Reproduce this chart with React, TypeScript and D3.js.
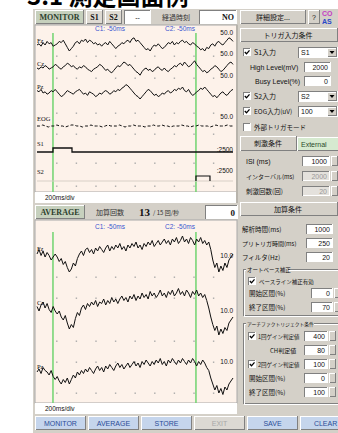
import React from 'react';
import * as d3 from 'd3';

// raw monitor traces, evenly sampled over the 2000 ms sweep
const fzRaw = [0, 1, -1, 2, 0, 3, 1, 2, -1, 0, 1, 3, 2, 4, 1, -2, -5, -3, -1, 2, 3, 1, 4, 3, 5, 2, 4, 3, 1, 2, 0, 1, -1, 1, 2, 0, 3, 1, -1, -3, -1, 0, 2, 1, 3, 4, 2, 5, 6, 3, 4, 2, 0, -2, -4, -3, -5, -2, 0, -1, 1, -1, -3, -2, 0, 2, 1, 3, 0, 2, 1, 3, 4, 2, 3, 1, 0, 2, 1, -1, -2, -4, -3, -5, -2, -3, 0, 1, -1, 2, 3, 1, 0, 2, 4, 6, 5, 3];
const czRaw = [0, -1, 1, 0, 2, 1, -1, 0, 1, 3, 2, 0, -1, 1, 2, 4, 3, 1, 2, 0, -1, 1, 0, 2, 1, -1, -2, -3, -1, 0, 1, 3, 2, 0, -2, -1, -3, -4, -2, 0, 2, 1, 3, 5, 4, 2, 3, 1, -1, -3, -4, -6, -3, -1, 0, -2, -1, -3, -2, 0, 1, -1, -2, 0, -2, -3, -1, 0, 2, 1, 3, 4, 2, 5, 3, 1, 2, 4, 6, 3, 1, -1, -3, -2, -4, -3, -1, 0, 2, 1, -1, -3, -2, 0, 2, 4, 5, 3];
const pzRaw = [2, 1, 3, 0, 1, -1, 0, 2, 1, 3, 1, -1, -3, -2, 0, 2, 1, 0, -1, 1, 2, 3, 1, -1, 0, -2, 1, 0, -1, -3, -2, 0, -1, 1, 2, 1, -1, 0, 2, 1, 3, 2, 4, 5, 7, 6, 4, 2, 0, -2, -3, -5, -3, -1, 1, 3, 2, 0, -2, -1, -3, -2, 0, -1, 1, 2, 0, 1, 3, 2, 4, 3, 5, 2, 1, 3, 0, -2, -1, 1, 2, 4, 3, 5, 3, 1, -1, -3, -2, -4, -2, 0, 1, -1, -2, 0, 2, 3];
const eogRaw = [0, 0, 1, 0, -1, 0, 0, 1, 0, 0, -1, 0, 1, 1, 0, 0, -1, 0, 0, 1, 0, 0, 0, -1, 0, 1, 0, 0, 0, 1, 0, -1, 0, 0, 1, 0, 0, 0, -1, 0, 0, 1, 0, 0, 1, 0, 0, -1, 0, 0, 0, 1, 0, 0, -1, 0, 0, 1, 0, 0, 0, -1, 0, 1, 0, 0, 0, 1, 0, 0];

// averaged traces
const fzAvg = [0, 3, -1, 2, -2, 1, -1, -4, -2, 0, -2, -5, -3, -7, -5, -9, -12, -10, -6, -8, -3, 0, 2, -1, 3, 4, 1, 3, 0, 4, 2, 5, 3, 1, 4, 6, 2, 5, 3, 6, 4, 7, 3, 5, 2, 6, 4, 7, 5, 8, 4, 6, 3, 7, 5, 8, 6, 9, 5, 7, 9, 6, 8, 10, 7, 9, 6, 10, 8, 11, 7, 9, 12, 8, 10, 7, 11, 9, 6, 10, 8, 11, 7, 9, 6, 8, 3, -4, -9, -6, -12, -8, -11, -6, -9, -4, -2, 0];
const czAvg = [1, -2, 2, 4, 0, 3, -1, -3, 1, -2, -4, -2, -6, -8, -5, -10, -14, -11, -13, -7, -3, -5, 0, 2, -1, 3, 1, 4, 2, 5, 1, 4, 3, 6, 2, 5, 3, 7, 4, 6, 3, 6, 8, 5, 7, 4, 8, 6, 9, 5, 8, 6, 10, 7, 9, 6, 11, 8, 10, 7, 9, 12, 8, 10, 7, 11, 9, 12, 8, 10, 13, 9, 11, 8, 12, 10, 7, 11, 9, 12, 8, 10, 7, 9, 5, 0, -6, -11, -15, -12, -18, -14, -17, -13, -15, -10, -8, -6];
const pzAvg = [0, 2, -1, 3, 1, 0, -2, 1, -3, -5, -3, -6, -8, -5, -7, -4, -8, -5, -2, -4, 0, -2, 1, -1, 2, 0, 3, 1, -1, 2, 4, 1, 3, 0, 4, 2, 5, 3, 1, 4, 6, 3, 5, 2, 4, 6, 3, 5, 7, 4, 6, 3, 7, 5, 8, 6, 4, 7, 5, 8, 6, 9, 5, 7, 4, 8, 6, 9, 7, 5, 8, 6, 9, 7, 5, 8, 6, 9, 7, 4, 7, 5, 8, 6, 3, 1, -4, -8, -12, -9, -14, -11, -15, -10, -12, -8, -6, -4];

const rawChannels = ['Fz', 'Cz', 'Pz', 'EOG'];
const rawScales = ['50.0', '50.0', '50.0', '50.0'];
const trigChannels = ['S1', 'S2'];
const trigScales = [':2500', ':2500'];
const avgChannels = ['Fz', 'Cz', 'Pz'];
const avgScales = ['10.0', '10.0', '10.0'];
const cursorNames = ['C1: -50ms', 'C2: -50ms'];
const cursorTimes = [163, 1622];
const s1On = [163, 357];
const s2On = [1622, 1765];
const bottomButtons = ['MONITOR', 'AVERAGE', 'STORE', 'EXIT', 'SAVE', 'CLEAR'];

const JP = '"Noto Sans CJK JP", sans-serif';
const SERIF = '"Liberation Serif", serif';
const SANS = '"Liberation Sans", sans-serif';
const GRAY = '#d4d0c8';

const x = d3.scaleLinear().domain([0, 2000]).range([37, 233]);
const gridT = d3.range(200, 2000, 200);

const trace = (values: number[], cy: number, k: number) => {
  const t = d3.scaleLinear().domain([0, values.length - 1]).range([0, 2000]);
  const y = d3.scaleLinear().domain([-10, 10]).range([cy + 10 * k, cy - 10 * k]);
  return d3.line<number>().x((_, i) => x(t(i))).y(v => y(v))(values) || '';
};

const step = (on: number[], base: number, high: number) => {
  const y = d3.scaleLinear().domain([0, 1]).range([base, high]);
  const pts: [number, number][] = [[0, 0], [on[0], 0], [on[0], 1], [on[1], 1], [on[1], 0], [2000, 0]];
  return d3.line<[number, number]>().x(d => x(d[0])).y(d => y(d[1]))(pts) || '';
};

const Box = ({ x, y, w, h, fill = GRAY, inset = false }: any) => {
  const lt = inset ? '#808080' : '#ffffff';
  const rb = inset ? '#ffffff' : '#808080';
  return (
    <g shapeRendering="crispEdges">
      <rect x={x} y={y} width={w} height={h} fill={fill} />
      <path d={`M${x + 0.5},${y + h}V${y + 0.5}H${x + w}`} stroke={lt} fill="none" />
      <path d={`M${x + 0.5},${y + h - 0.5}H${x + w - 0.5}V${y}`} stroke={rb} fill="none" />
    </g>
  );
};

const Label = ({ x, y, children, size = 7, anchor = 'start', fill = '#111', font = JP, weight = 'normal' }: any) => (
  <text x={x} y={y} fontSize={size} textAnchor={anchor} fill={fill} fontFamily={font} fontWeight={weight}>{children}</text>
);

const Check = ({ x, y, on = true }: any) => (
  <g>
    <Box x={x} y={y - 4} w={8} h={8} fill="#fff" inset />
    {on && <path d={`M${x + 1.8},${y}l1.7,1.8l3-3.5`} stroke="#000" strokeWidth={1.3} fill="none" />}
  </g>
);

const Field = ({ y, value, x0 = 304, w = 27, disabled = false, spin = true }: any) => (
  <g>
    <Box x={x0} y={y - 5} w={w} h={10} fill={disabled ? '#e4e1dc' : '#fff'} inset />
    <Label x={x0 + w - 3} y={y + 2.5} anchor="end" fill={disabled ? '#999' : '#111'} font={SANS}>{value}</Label>
    {spin && <Box x={x0 + w + 1} y={y - 5} w={7} h={10} />}
  </g>
);

const Combo = ({ y, value }: any) => (
  <g>
    <Box x={298} y={y - 5} w={40} h={11} fill="#fff" inset />
    <Label x={301} y={y + 2.5} font={SANS}>{value}</Label>
    <Box x={327} y={y - 4} w={10} h={9} />
    <path d={`M${329.5},${y - 1}h5l-2.5,3z`} fill="#000" />
  </g>
);

export default function App() {
  const rawCy = [45, 68, 93, 126];
  const rawLab = [43, 66, 89, 121];
  const rawSc = [35, 56, 78, 119];
  const avgCy = [254, 308, 372];
  const avgSc = [258, 313, 364];
  const band = d3.scaleBand().domain(bottomButtons).range([35, 351]).paddingInner(0.04);

  return (
    <div style={{ position: 'absolute', left: 0, top: 0 }}>
      <svg width={338} height={433} style={{ display: 'block', background: '#fff' }}>
        {/* page heading, cut at the top as in the source page */}
        <Label x={27} y={5} size={24} weight="bold" fill="#000">3.1 測定画面例</Label>

        <rect x={33} y={9} width={305} height={424} fill={GRAY} />

        {/* top toolbar */}
        <Box x={35} y={10} w={49} h={14} fill="#c6d0bd" />
        <Label x={59.5} y={20} anchor="middle" font={SERIF} weight="bold" size={8} fill="#2c3f2c">MONITOR</Label>
        <Box x={86} y={10} w={17} h={14} fill="#dedad2" />
        <Label x={94.5} y={20} anchor="middle" font={SERIF} weight="bold" size={8}>S1</Label>
        <Box x={105} y={10} w={17} h={14} fill="#dedad2" />
        <Label x={113.5} y={20} anchor="middle" font={SERIF} weight="bold" size={8}>S2</Label>
        <Box x={124} y={10} w={27} h={14} fill="#fff" inset />
        <Label x={137.5} y={20} anchor="middle" font={SANS} size={7}>--</Label>
        <Label x={176} y={20} anchor="middle" size={7} fill="#333">経過時刻</Label>
        <Box x={199} y={10} w={38} h={14} fill="#fff" inset />
        <Label x={234} y={20} anchor="end" font={SERIF} weight="bold" size={8}>NO</Label>
        <Box x={240} y={10} w={66} h={14} />
        <Label x={273} y={20} anchor="middle" size={7}>詳細設定...</Label>
        <Box x={308} y={10} w={12} h={14} />
        <Label x={314} y={20} anchor="middle" size={7} font={SANS}>?</Label>
        <Label x={322} y={16} size={7} font={SANS} weight="bold" fill="#c43cc4">CO</Label>
        <Label x={322} y={24} size={7} font={SANS} weight="bold" fill="#2846c8">AS</Label>

        {/* monitor chart */}
        <rect x={35} y={25} width={202} height={167} fill="#fdf2ea" stroke="#a8a8a8" />
        <rect x={35} y={192} width={202} height={11} fill="#fff" />
        <Label x={45} y={200} size={6.5} font={SANS}>200ms/div</Label>
        {[56, 78, 113, 134, 163, 186].map(gy => gridT.map(t => (
          <rect key={`m${gy}-${t}`} x={x(t) - 0.5} y={gy - 0.5} width={1.4} height={1.4} fill="#a9a9a9" />
        )))}
        {cursorTimes.map((t, i) => (
          <line key={`mc${i}`} x1={x(t)} x2={x(t)} y1={33} y2={192} stroke="#6fd46f" strokeWidth={1.5} />
        ))}
        {cursorNames.map((c, i) => (
          <Label key={`mn${i}`} x={[95, 165][i]} y={31} size={6.5} font={SANS} fill="#3a55d0">{c}</Label>
        ))}
        {[fzRaw, czRaw, pzRaw].map((v, i) => (
          <path key={`r${i}`} d={trace(v, rawCy[i], 1.2)} fill="none" stroke="#111" strokeWidth={1} />
        ))}
        <path d={trace(eogRaw, rawCy[3], 1)} fill="none" stroke="#111" strokeWidth={1} strokeDasharray="3 2" />
        {rawChannels.map((c, i) => (
          <Label key={`rl${i}`} x={37} y={rawLab[i]} size={6.5} font={SERIF}>{c}</Label>
        ))}
        {rawScales.map((s, i) => (
          <Label key={`rs${i}`} x={233} y={rawSc[i]} anchor="end" size={6.5} font={SANS}>{s}</Label>
        ))}
        <path d={step(s1On, 152, 148)} fill="none" stroke="#111" strokeWidth={1.3} />
        <line x1={x(0)} x2={x(2000)} y1={181} y2={181} stroke="#d8cfc6" />
        <path d={`M${x(s2On[0])},181V176H${x(s2On[1])}V181`} fill="none" stroke="#111" strokeWidth={1.2} />
        {trigChannels.map((c, i) => (
          <Label key={`tl${i}`} x={37} y={[146, 174][i]} size={6.5} font={SERIF}>{c}</Label>
        ))}
        {trigScales.map((s, i) => (
          <Label key={`ts${i}`} x={233} y={[152, 173][i]} anchor="end" size={6.5} font={SANS}>{s}</Label>
        ))}
        <rect x={236} y={25} width={2} height={178} fill="#b8b4ac" />

        {/* average header */}
        <Box x={35} y={205} w={50} h={14} fill="#c6d0bd" />
        <Label x={60} y={215} anchor="middle" font={SERIF} weight="bold" size={8} fill="#2c3f2c">AVERAGE</Label>
        <Label x={110} y={215} anchor="middle" size={7} fill="#333">加算回数</Label>
        <Label x={139} y={216} size={11} font={SERIF} weight="bold">13</Label>
        <Label x={153} y={215} size={6} fill="#333">/ 15 回/秒</Label>
        <Box x={205} y={205} w={33} h={14} fill="#fff" inset />
        <Label x={235} y={216} anchor="end" font={SERIF} weight="bold" size={9}>0</Label>

        {/* averaged chart */}
        <rect x={35} y={220} width={202} height={183} fill="#fdf2ea" stroke="#a8a8a8" />
        <rect x={35} y={403} width={202} height={11} fill="#fff" />
        <Label x={45} y={411} size={6.5} font={SANS}>200ms/div</Label>
        {[277, 298, 341, 362, 393].map(gy => gridT.map(t => (
          <rect key={`a${gy}-${t}`} x={x(t) - 0.5} y={gy - 0.5} width={1.4} height={1.4} fill="#a9a9a9" />
        )))}
        {cursorTimes.map((t, i) => (
          <line key={`ac${i}`} x1={x(t)} x2={x(t)} y1={232} y2={403} stroke="#6fd46f" strokeWidth={1.5} />
        ))}
        {cursorNames.map((c, i) => (
          <Label key={`an${i}`} x={[95, 165][i]} y={229} size={6.5} font={SANS} fill="#3a55d0">{c}</Label>
        ))}
        {[fzAvg, czAvg, pzAvg].map((v, i) => (
          <path key={`av${i}`} d={trace(v, avgCy[i], 1.5)} fill="none" stroke="#111" strokeWidth={1} />
        ))}
        {avgChannels.map((c, i) => (
          <Label key={`al${i}`} x={37} y={avgCy[i] - 3} size={6.5} font={SERIF}>{c}</Label>
        ))}
        {avgScales.map((s, i) => (
          <Label key={`as${i}`} x={233} y={avgSc[i]} anchor="end" size={6.5} font={SANS}>{s}</Label>
        ))}

        {/* right panel: trigger input */}
        <Box x={240} y={28} w={98} h={14} />
        <Label x={288} y={38} anchor="middle" size={7}>トリガ入力条件</Label>
        <Check x={243} y={52} />
        <Label x={254} y={54.5}>S1入力</Label>
        <Combo y={52} value="S1" />
        <Label x={250} y={69.5} font={SANS}>High Level(mV)</Label>
        <Field y={67} value="2000" spin={false} />
        <Label x={255} y={83.5} font={SANS}>Busy Level(%)</Label>
        <Field y={81} value="0" spin={false} />
        <Check x={243} y={96} />
        <Label x={254} y={98.5}>S2入力</Label>
        <Combo y={96} value="S2" />
        <Check x={243} y={111} />
        <Label x={254} y={113.5} size={6.5}>EOG入力(uV)</Label>
        <Combo y={111} value="100" />
        <Check x={243} y={127} on={false} />
        <Label x={254} y={129.5} size={6.5}>外部トリガモード</Label>

        {/* stimulus tabs */}
        <Box x={240} y={136} w={57} h={15} />
        <Label x={268} y={146} anchor="middle">刺激条件</Label>
        <Box x={297} y={137} w={45} h={14} fill="#d6ead0" />
        <Label x={301} y={147} font={SANS} fill="#2b4a2b">External</Label>
        <Label x={246} y={163.5} font={SANS}>ISI (ms)</Label>
        <Field y={161} value="1000" x0={302} w={28} />
        <Label x={246} y={178.5} size={6}>インターバル(ms)</Label>
        <Field y={176} value="2000" x0={302} w={28} disabled />
        <Label x={246} y={193.5} size={6.5}>刺激回数(回)</Label>
        <Field y={191} value="20" x0={302} w={28} disabled />

        {/* averaging conditions */}
        <Box x={240} y={202} w={98} h={14} />
        <Label x={288} y={212} anchor="middle">加算条件</Label>
        <Label x={242} y={231.5} size={6.5}>解析時間(ms)</Label>
        <Field y={229} value="1000" x0={306} w={27} spin={false} />
        <Label x={242} y={245.5} size={6}>プリトリガ時間(ms)</Label>
        <Field y={243} value="250" x0={306} w={27} spin={false} />
        <Label x={242} y={259.5} size={6.5}>フィルタ(Hz)</Label>
        <Field y={257} value="20" x0={306} w={27} spin={false} />

        <rect x={243.5} y={269.5} width={96} height={46} fill="none" stroke="#808080" />
        <rect x={244.5} y={270.5} width={96} height={46} fill="none" stroke="#fff" />
        <rect x={246} y={266} width={42} height={8} fill={GRAY} />
        <Label x={247} y={271.5} size={5.5}>オートベース補正</Label>
        <Check x={248} y={281} />
        <Label x={259} y={283.5} size={5.5}>ベースライン補正有効</Label>
        <Label x={249} y={296} size={6.5}>開始区間(%)</Label>
        <Field y={293} value="0" x0={311} w={22} />
        <Label x={249} y={310} size={6.5}>終了区間(%)</Label>
        <Field y={307} value="70" x0={311} w={22} />

        <rect x={243.5} y={323.5} width={96} height={80} fill="none" stroke="#808080" />
        <rect x={244.5} y={324.5} width={96} height={80} fill="none" stroke="#fff" />
        <rect x={246} y={320} width={68} height={8} fill={GRAY} />
        <Label x={247} y={325.5} size={4.8}>アーチファクトリジェクト条件</Label>
        <Check x={248} y={336} />
        <Label x={258} y={338.5} size={5.5}>1回ゲイン判定値</Label>
        <Field y={336} value="400" x0={304} w={24} />
        <Label x={270} y={352.5} size={6}>CH判定値</Label>
        <Field y={350} value="80" x0={304} w={24} />
        <Check x={248} y={364} />
        <Label x={258} y={366.5} size={5.5}>2回ゲイン判定値</Label>
        <Field y={364} value="100" x0={304} w={24} />
        <Label x={249} y={381} size={6.5}>開始区間(%)</Label>
        <Field y={378} value="0" x0={304} w={24} />
        <Label x={249} y={395} size={6.5}>終了区間(%)</Label>
        <Field y={392} value="100" x0={304} w={24} />

        {/* bottom buttons */}
        {bottomButtons.map((b, i) => {
          const off = b === 'EXIT';
          const bx = band(b) as number;
          return (
            <g key={b}>
              <Box x={bx} y={416} w={band.bandwidth()} h={14} fill={off ? '#dcd9d3' : '#c5d5ec'} />
              <Label x={bx + band.bandwidth() / 2} y={426} anchor="middle" size={7} font={SANS} fill={off ? '#a8a8a8' : '#2a4c98'}>{b}</Label>
            </g>
          );
        })}
      </svg>
    </div>
  );
}
